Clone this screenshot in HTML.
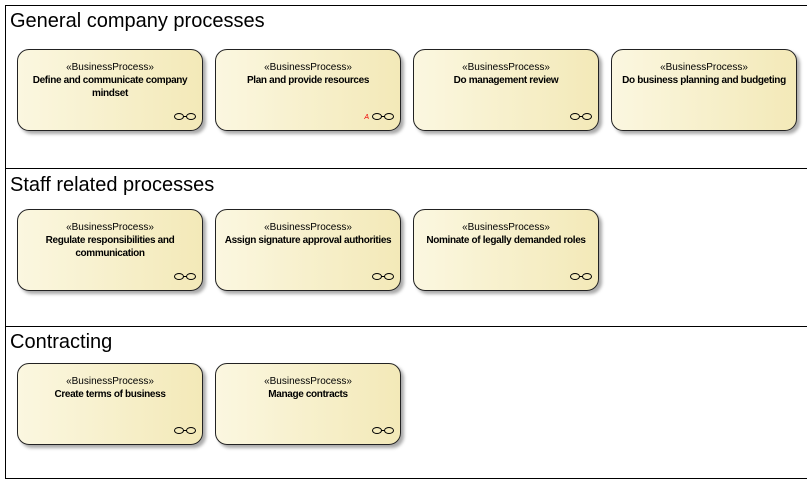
<!DOCTYPE html>
<html><head><style>
body{margin:0;width:807px;height:483px;background:#fff;position:relative;overflow:hidden;font-family:"Liberation Sans",sans-serif}
.frame{position:absolute;left:5px;top:5px;width:810px;height:472px;border:1px solid #000;border-right:none}
.hl{position:absolute;left:5px;width:810px;height:1px;background:#000}
.t{position:absolute;left:10px;font-size:20px;color:#000}
.b{position:absolute;width:184px;height:80px;border:1px solid #222;border-radius:12px;background:linear-gradient(90deg,#fbf7e0,#f3e9b8);box-shadow:3px 3px 3px #aaa;text-align:center;font-size:10px;color:#000}
.s{margin-top:11px;line-height:13px}
.n{font-weight:bold;line-height:13px;padding:0 2px;letter-spacing:-0.35px}
.i{position:absolute;right:6px;bottom:10px;width:22px;height:7px}
</style></head><body>
<div class="frame"></div>
<div class="hl" style="top:168px"></div>
<div class="hl" style="top:326px"></div>
<div class="t" style="top:10px">General company processes</div>
<div class="t" style="top:174px">Staff related processes</div>
<div class="t" style="top:331px">Contracting</div>
<svg width="0" height="0" style="position:absolute"><defs><g id="ic"><ellipse cx="5" cy="3.5" rx="4.5" ry="3" fill="none" stroke="#000"/><ellipse cx="17" cy="3.5" rx="4.5" ry="3" fill="none" stroke="#000"/><line x1="9.5" y1="3.5" x2="12.5" y2="3.5" stroke="#000"/></g></defs></svg>

<div class="b" style="left:17px;top:49px"><div class="s">«BusinessProcess»</div><div class="n">Define and communicate company<br>mindset</div><svg class="i"><use href="#ic"/></svg></div>
<div class="b" style="left:215px;top:49px"><div class="s">«BusinessProcess»</div><div class="n">Plan and provide resources</div><span style="position:absolute;right:31px;bottom:9px;color:#e00;font-size:7px;font-style:italic">A</span><svg class="i"><use href="#ic"/></svg></div>
<div class="b" style="left:413px;top:49px"><div class="s">«BusinessProcess»</div><div class="n">Do management review</div><svg class="i"><use href="#ic"/></svg></div>
<div class="b" style="left:611px;top:49px"><div class="s">«BusinessProcess»</div><div class="n" style="white-space:nowrap">Do business planning and budgeting</div></div>

<div class="b" style="left:17px;top:209px"><div class="s">«BusinessProcess»</div><div class="n">Regulate responsibilities and<br>communication</div><svg class="i"><use href="#ic"/></svg></div>
<div class="b" style="left:215px;top:209px"><div class="s">«BusinessProcess»</div><div class="n" style="white-space:nowrap">Assign signature approval authorities</div><svg class="i"><use href="#ic"/></svg></div>
<div class="b" style="left:413px;top:209px"><div class="s">«BusinessProcess»</div><div class="n">Nominate of legally demanded roles</div><svg class="i"><use href="#ic"/></svg></div>

<div class="b" style="left:17px;top:363px"><div class="s">«BusinessProcess»</div><div class="n">Create terms of business</div><svg class="i"><use href="#ic"/></svg></div>
<div class="b" style="left:215px;top:363px"><div class="s">«BusinessProcess»</div><div class="n">Manage contracts</div><svg class="i"><use href="#ic"/></svg></div>
</body></html>
